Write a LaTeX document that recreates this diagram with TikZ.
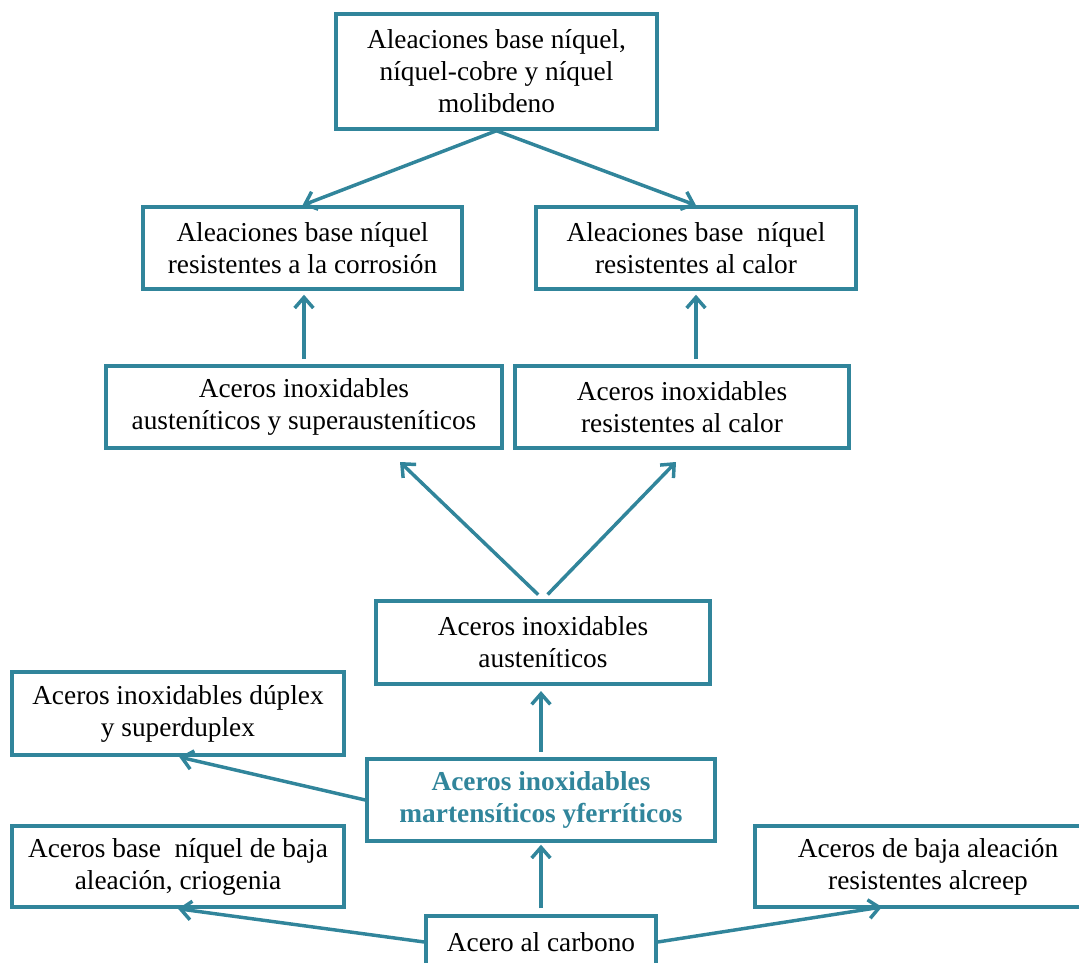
\documentclass[tikz,border=0pt]{standalone}
\usepackage{fontspec}
\setmainfont{Liberation Serif}
\usetikzlibrary{arrows.meta}
\definecolor{tealline}{RGB}{49,133,155}
\tikzset{
  box/.style={draw=tealline, line width=2.6pt, align=center, inner sep=0pt,
    font=\fontsize{20.5}{24}\selectfont},
  boxsize/.style 2 args={minimum width=#1*0.75pt, minimum height=#2*0.75pt},
  arr/.style={draw=tealline, line width=2.6pt, -{Straight Barb[length=8pt,width=14pt]}}
}
\begin{document}
\begin{tikzpicture}[x=0.75pt,y=-0.75pt]
    \useasboundingbox (0,0) rectangle (1079,963);
    \clip (0,0) rectangle (1079,963);

    % Aleaciones
    \node[box, boxsize={321}{115}] (top) at (496.5,71.5)
        {Aleaciones base níquel,\\níquel-cobre y níquel\\molibdeno};
    \node[box, boxsize={319}{82}] (left2) at (302.5,248)
        {Aleaciones base níquel\\resistentes a la corrosión};
    \node[box, boxsize={320}{82}] (right2) at (696,248)
        {Aleaciones base\ \ níquel\\resistentes al calor};

    % Aceros inoxidables
    \node[box, boxsize={396}{82}] (left3) at (304,407)
        {Aceros inoxidables\\austeníticos y superausteníticos};
    \node[box, boxsize={334}{82}] (right3) at (682,407)
        {Aceros inoxidables\\resistentes al calor};
    \node[box, boxsize={334}{83}] (aust) at (543,642.5)
        {Aceros inoxidables\\austeníticos};
    \node[box, boxsize={332}{83}] (duplex) at (178,713.5)
        {Aceros inoxidables dúplex\\y superduplex};
    \node[box, boxsize={348}{82}, text=tealline, font=\fontsize{20.5}{24}\selectfont\bfseries] (mart) at (541,800)
        {Aceros inoxidables\\martensíticos yferríticos};

    % Aceros de baja aleacion
    \node[box, boxsize={332}{81}] (baseni) at (178,866.5)
        {Aceros base\ \ níquel de baja\\aleación, criogenia};
    \node[box, boxsize={346}{81}] (bajaal) at (928,866.5)
        {Aceros de baja aleación\\resistentes alcreep};
    \node[box, boxsize={230}{52}] (carbono) at (541,942) {Acero al carbono};

    % Flechas
    \coordinate (l3tip) at (400,462);
    \coordinate (r3tip) at (676,462);
    \coordinate (bjtip) at (882,907);
    \draw[arr] (top.south) -- (left2.north);
    \draw[arr] (top.south) -- (right2.north);
    \draw[arr, shorten <=4pt, shorten >=3pt] (left3.north) -- (left3.north |- left2.south);
    \draw[arr, shorten <=4pt, shorten >=3pt] (right2.south |- right3.north) -- (right2.south);
    \draw[arr, shorten <=5pt] (aust.north) -- (l3tip);
    \draw[arr, shorten <=5pt] (aust.north) -- (r3tip);
    \draw[arr, shorten <=4pt, shorten >=4pt] (mart.north) -- (mart.north |- aust.south);
    \draw[arr, shorten >=1pt] (mart.west) -- (duplex.south);
    \draw[arr, shorten <=4.5pt, shorten >=1.5pt] (carbono.north) -- (mart.south);
    \draw[arr] (carbono.west) -- (baseni.south);
    \draw[arr] (carbono.east) -- (bjtip);
\end{tikzpicture}
\end{document}
